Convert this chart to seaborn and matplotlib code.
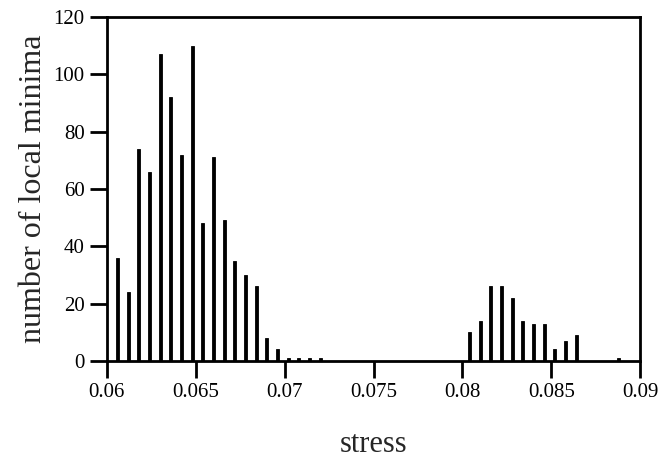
import pandas as pd
import matplotlib
matplotlib.use('Agg')
import matplotlib.pyplot as plt
import seaborn as sns

# stress bins (centres) and number of local minima in each
stress = [0.0606, 0.0612, 0.0618, 0.0624, 0.0630, 0.0636, 0.0642, 0.0648,
          0.0654, 0.0660, 0.0666, 0.0672, 0.0678, 0.0684, 0.0690, 0.0696,
          0.0702, 0.0708, 0.0714, 0.0720,
          0.0804, 0.0810, 0.0816, 0.0822, 0.0828, 0.0834, 0.0840, 0.0846,
          0.0852, 0.0858, 0.0864, 0.0888]
counts = [36, 24, 74, 66, 107, 92, 72, 110,
          48, 71, 49, 35, 30, 26, 8, 4,
          1, 1, 1, 1,
          10, 14, 26, 26, 22, 14, 13, 13,
          4, 7, 9, 1]

x_ticks = [0.06, 0.065, 0.07, 0.075, 0.08, 0.085, 0.09]
x_tick_labels = ['0.06', '0.065', '0.07', '0.075', '0.08', '0.085', '0.09']
y_ticks = [0, 20, 40, 60, 80, 100, 120]

df = pd.DataFrame({'stress': stress, 'count': counts})

sns.set_theme(style='ticks')
plt.rcParams['font.family'] = ['Liberation Serif', 'DejaVu Serif']

fig = plt.figure(figsize=(6.6, 4.58), dpi=100)
ax = fig.add_axes([0.162, 0.212, 0.808, 0.751])

# thin bars on a real (numeric) stress axis
sns.barplot(data=df, x='stress', y='count', native_scale=True, width=0.28,
            color='black', edgecolor='black', linewidth=0.6, saturation=1,
            errorbar=None, ax=ax)

ax.set_xlim(0.06, 0.09)
ax.set_ylim(0, 120)
ax.set_xticks(x_ticks)
ax.set_xticklabels(x_tick_labels)
ax.set_yticks(y_ticks)
ax.tick_params(axis='both', direction='out', length=12, width=2,
               labelsize=15, colors='black', pad=4)
for s in ax.spines.values():
    s.set_linewidth(2)
    s.set_color('black')

ax.set_xlabel('stress', fontsize=22, labelpad=20)
ax.set_ylabel('number of local minima', fontsize=23, labelpad=4)

plt.savefig('out.png', dpi=100)
